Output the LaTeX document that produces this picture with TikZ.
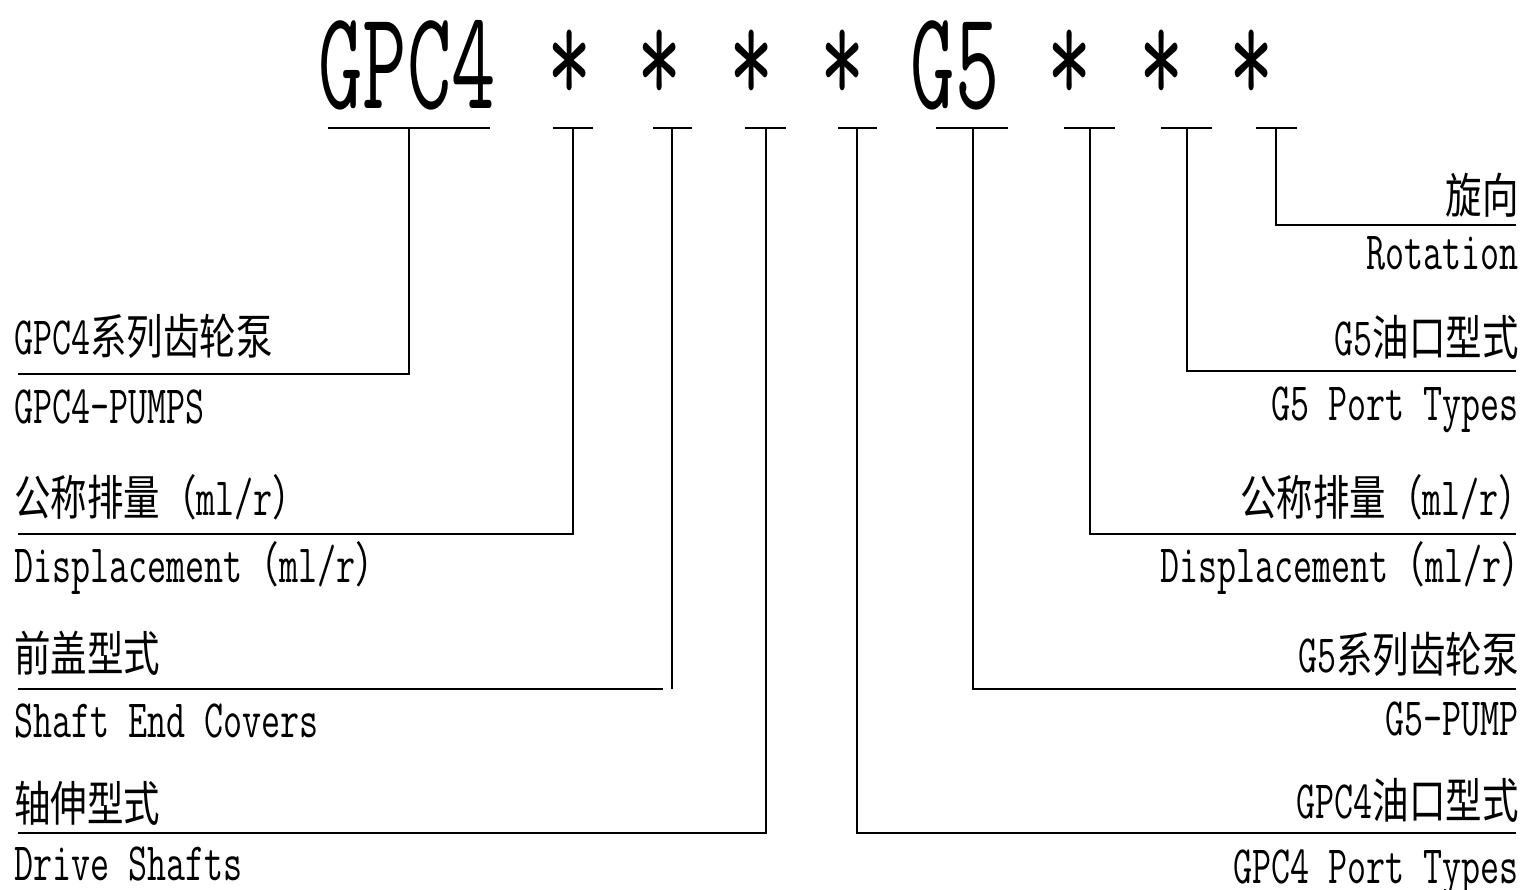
\documentclass[tikz,border=0pt]{standalone}
\usepackage{fontspec}
\usepackage{graphicx}
\usepackage{tikz}
\newfontfamily\cjk{Noto Sans CJK SC}
\newcommand{\lat}[1]{\scalebox{0.685}[1]{\fontsize{54}{60}\selectfont\ttfamily #1}}
\newcommand{\han}[1]{\scalebox{0.76}[1]{\fontsize{48}{56}\selectfont\cjk #1}}
\newcommand{\hdr}[1]{\scalebox{0.61}[1]{\fontsize{141}{150}\selectfont\ttfamily #1}}

\begin{document}
\begin{tikzpicture}[x=1pt,y=-1pt,
        lbl/.style={inner sep=0pt},
        uline/.style={line width=2.4pt},
        leader/.style={line width=1.3pt}]
        \useasboundingbox (0,0) rectangle (1522,890);
        % model code
        \node[lbl] (gpc) at (407,65) {\hdr{GPC4}};
        \node[lbl] (gfive) at (955,65) {\hdr{G5}};
        \foreach \n/\x in {s1/570,s2/660,s3/752,s4/843,s5/1070,s6/1162,s7/1252}
            \node[lbl] (\n) at (\x,67) {\hdr{*}};
        \foreach \a/\b in {328/490,553/593,653/692,745/786,838/877,936/1008,1064/1115,1161/1212,1256/1297}
            \draw[uline] (\a,128) -- (\b,128);
        % leaders
        \foreach \i/\x/\y/\e in {1/409/374/18,2/573/534/18,3/766/833/18,4/857/833/1516,
                5/973/689/1516,6/1090/534/1516,7/1187/371/1516,8/1276/225/1516}
        {
            \coordinate (t\i) at (\x,128);
            \coordinate (e\i) at (\e,\y);
            \draw[leader] (t\i) |- (e\i);
        }
        \coordinate (t9) at (672,128);
        \coordinate (k9) at (672,689);
        \coordinate (f9) at (663,689);
        \coordinate (e9) at (18,689);
        \draw[leader] (t9) -- (k9);
        \draw[leader] (f9) -- (e9);
        % left labels
        \node[lbl,anchor=base west] (l1) at (14,354) {\lat{GPC4}\han{系列齿轮泵}};
        \node[lbl,anchor=base west] (l2) at (14,423) {\lat{GPC4-PUMPS}};
        \node[lbl,anchor=base west] (l3) at (14,515) {\han{公称排量（}\lat{ml/r}\han{）}};
        \node[lbl,anchor=base west] (l4) at (14,582) {\lat{Displacement}\han{（}\lat{ml/r}\han{）}};
        \node[lbl,anchor=base west] (l5) at (14,671) {\han{前盖型式}};
        \node[lbl,anchor=base west] (l6) at (14,737) {\lat{Shaft End Covers}};
        \node[lbl,anchor=base west] (l7) at (14,821) {\han{轴伸型式}};
        \node[lbl,anchor=base west] (l8) at (14,880) {\lat{Drive Shafts}};
        % right labels
        \node[lbl,anchor=base east] (r1) at (1519,214) {\han{旋向}};
        \node[lbl,anchor=base east] (r2) at (1519,270) {\lat{Rotation}};
        \node[lbl,anchor=base east] (r3) at (1519,355) {\lat{G5}\han{油口型式}};
        \node[lbl,anchor=base east] (r4) at (1519,420) {\lat{G5 Port Types}};
        \node[lbl,anchor=base west] (r5) at (1240,515) {\han{公称排量（}\lat{ml/r}\han{）}};
        \node[lbl,anchor=base west] (r6) at (1160,582) {\lat{Displacement}\han{（}\lat{ml/r}\han{）}};
        \node[lbl,anchor=base east] (r7) at (1519,672) {\lat{G5}\han{系列齿轮泵}};
        \node[lbl,anchor=base east] (r8) at (1519,735) {\lat{G5-PUMP}};
        \node[lbl,anchor=base east] (r9) at (1519,818) {\lat{GPC4}\han{油口型式}};
        \node[lbl,anchor=base east] (r10) at (1519,883) {\lat{GPC4 Port Types}};
\end{tikzpicture}
\end{document}
